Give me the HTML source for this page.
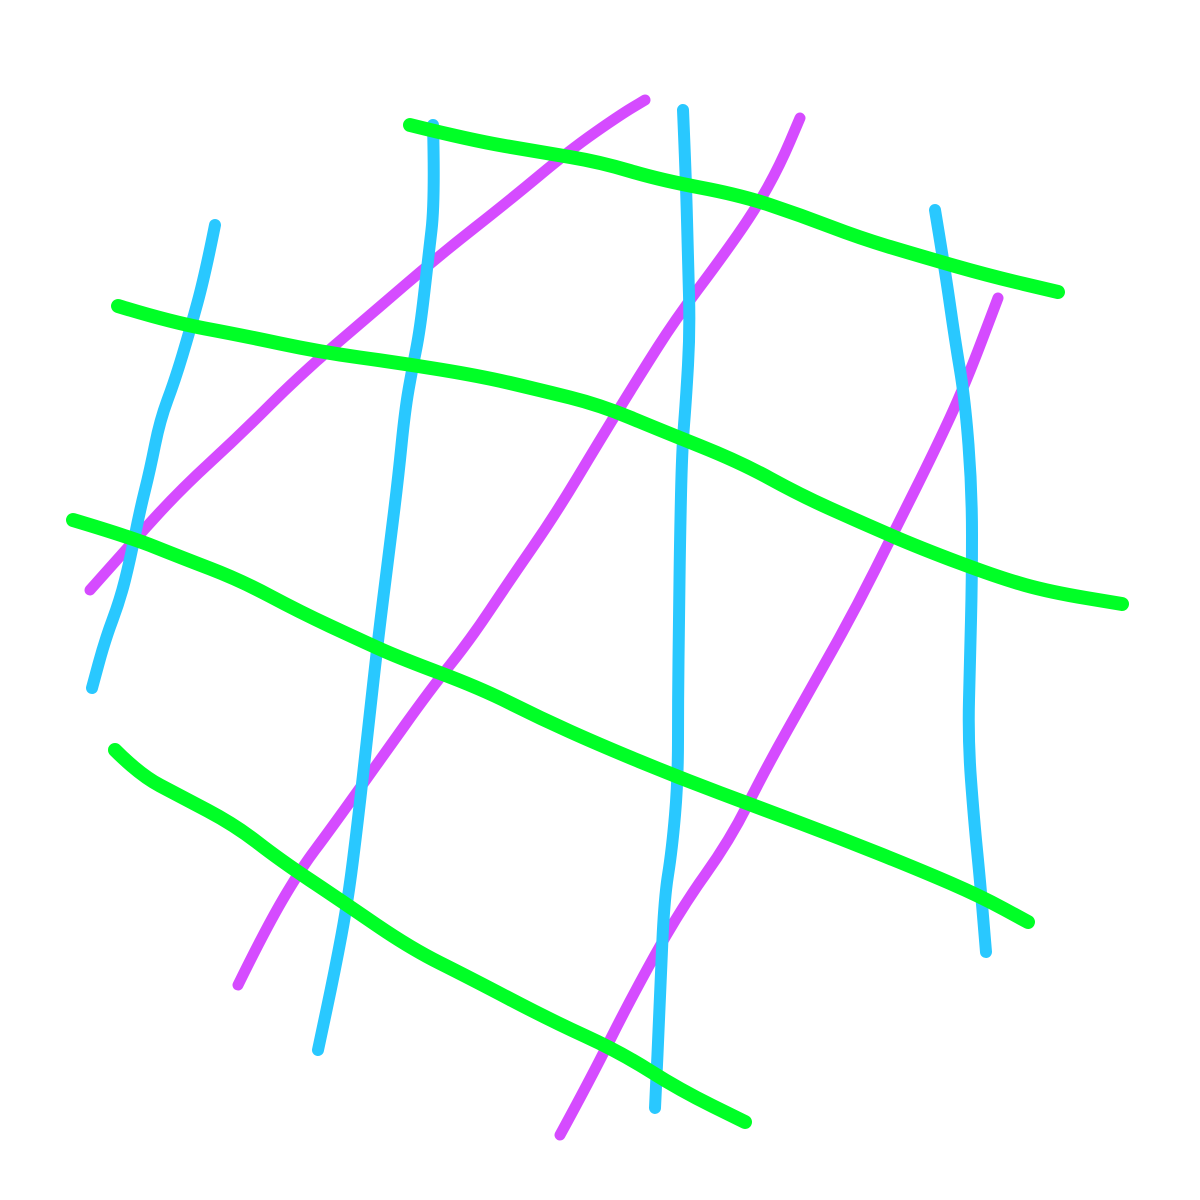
<!DOCTYPE html>
<html><head><meta charset="utf-8"><style>
html,body{margin:0;padding:0;background:#fff;width:1200px;height:1200px;overflow:hidden}
</style></head><body>
<svg id="art" width="1200" height="1200" viewBox="0 0 1200 1200" xmlns="http://www.w3.org/2000/svg"></svg>
<script>
const magentaStrokes = [
  [[90,590],[130,545],[180,490],[240,435],[300,375],[370,315],[440,255],[510,200],[570,150],[620,115],[645,100]],
  [[238,985],[265,930],[300,870],[330,830],[380,760],[430,690],[470,640],[510,580],[555,515],[600,440],[640,375],[675,320],[720,260],[755,210],[780,165],[800,118]],
  [[560,1135],[590,1080],[630,1000],[680,910],[730,840],[765,770],[810,690],[855,610],[895,530],[935,450],[965,385],[998,298]]
];
const blueStrokes = [
  [[215,225],[205,275],[190,330],[175,380],[160,420],[150,470],[140,510],[130,560],[120,600],[105,640],[92,688]],
  [[433,125],[435,200],[428,260],[420,330],[412,370],[405,410],[398,480],[388,560],[378,640],[368,730],[358,820],[348,900],[335,970],[318,1050]],
  [[683,110],[686,180],[688,260],[690,330],[686,400],[682,450],[680,540],[679,620],[678,700],[678,780],[672,850],[664,900],[660,1000],[655,1108]],
  [[935,210],[945,270],[955,340],[965,400],[972,490],[972,580],[970,660],[968,740],[974,820],[980,880],[986,952]]
];
const greenStrokes = [
  [[410,125],[470,140],[540,152],[600,162],[660,180],[740,195],[800,215],[860,238],[920,256],[990,276],[1058,292]],
  [[118,306],[170,322],[240,335],[320,352],[400,363],[480,376],[540,390],[600,405],[660,430],[740,462],[800,495],[860,522],[920,548],[1000,578],[1050,592],[1122,604]],
  [[73,520],[130,537],[180,557],[240,580],[300,612],[360,640],[400,658],[480,688],[540,718],[600,745],[680,778],[760,808],[840,838],[920,870],[980,896],[1028,922]],
  [[115,750],[140,775],[180,796],[235,825],[280,860],[340,900],[410,948],[470,978],[550,1020],[620,1052],[680,1090],[745,1122]]
];
const svg = document.getElementById('art');
const NS = 'http://www.w3.org/2000/svg';
function smoothPath(pts){
  let d = 'M' + pts[0][0] + ' ' + pts[0][1];
  for (let i = 1; i < pts.length - 1; i++) {
    const mx = (pts[i][0] + pts[i+1][0]) / 2, my = (pts[i][1] + pts[i+1][1]) / 2;
    d += ' Q' + pts[i][0] + ' ' + pts[i][1] + ' ' + mx + ' ' + my;
  }
  const l = pts[pts.length-1];
  d += ' L' + l[0] + ' ' + l[1];
  return d;
}
function drawSet(set, color, width, label){
  set.forEach((pts, i) => {
    const p = document.createElementNS(NS, 'path');
    p.setAttribute('d', smoothPath(pts));
    p.setAttribute('fill', 'none');
    p.setAttribute('stroke', color);
    p.setAttribute('stroke-width', width);
    p.setAttribute('stroke-linecap', 'round');
    p.setAttribute('stroke-linejoin', 'round');
    
    
    svg.appendChild(p);
  });
}
drawSet(magentaStrokes, '#d54bff', 11, 'magenta-stroke');
drawSet(blueStrokes, '#29c8ff', 12, 'blue-stroke');
drawSet(greenStrokes, '#00ff26', 14, 'green-stroke');
</script>
</body></html>
